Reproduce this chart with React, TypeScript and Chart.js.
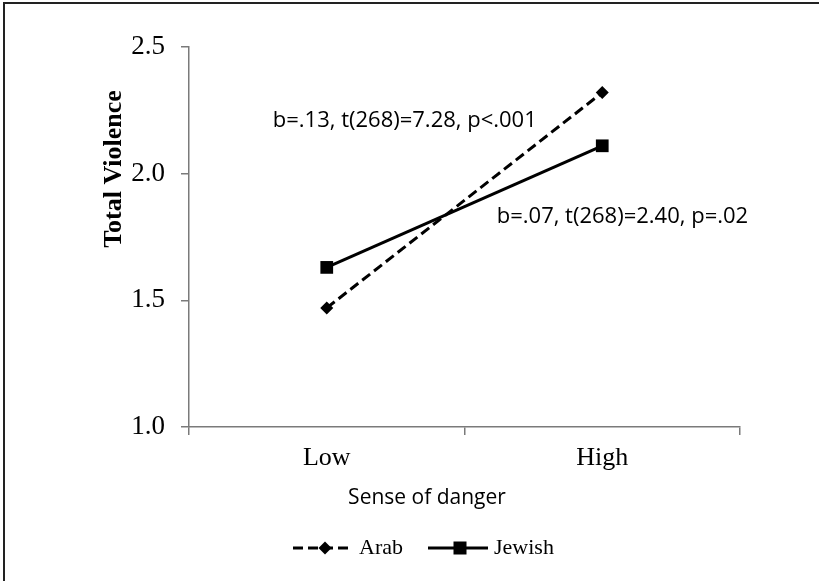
import React, { useEffect, useRef } from "react";
import { Chart, registerables } from "chart.js";

Chart.register(...registerables);

const categories = ["Low", "High"];
const arabValues = [1.47, 2.32];
const jewishValues = [1.63, 2.11];
const yTicks = [1.0, 1.5, 2.0, 2.5];
const seriesNames = ["Arab", "Jewish"];
const annotationTexts = ["b=.13, t(268)=7.28, p<.001", "b=.07, t(268)=2.40, p=.02"];
// anchor of each annotation in data space: [category index, value]
const annotationAnchors: [number, number][] = [
  [-0.196, 2.185],
  [0.617, 1.805],
];
const xTitle = "Sense of danger";
const yTitle = "Total Violence";

const SERIF = "'Liberation Serif', 'Times New Roman', serif";
const SANS = "'Open Sans', 'Liberation Sans', sans-serif";

const decorPlugin = {
  id: "decor",
  afterDraw(chart: any) {
    const ctx = chart.ctx as CanvasRenderingContext2D;
    const xs = chart.scales.x;
    const ys = chart.scales.y;
    const area = chart.chartArea;
    ctx.save();
    // frame (left and top edges)
    ctx.fillStyle = "#222";
    ctx.fillRect(3, 2, 2, chart.height);
    ctx.fillRect(3, 2, chart.width, 2);

    // y title
    ctx.fillStyle = "#000";
    ctx.font = `bold 26px ${SERIF}`;
    ctx.textAlign = "center";
    ctx.textBaseline = "alphabetic";
    ctx.save();
    ctx.translate(area.left - 68, area.top + 122);
    ctx.rotate(-Math.PI / 2);
    ctx.fillText(yTitle, 0, 0);
    ctx.restore();

    // x title
    ctx.font = `21px ${SANS}`;
    ctx.textAlign = "center";
    ctx.fillText(xTitle, area.left + 238, area.bottom + 77);

    // annotations
    ctx.font = `22px ${SANS}`;
    ctx.textAlign = "left";
    annotationTexts.forEach((t, i) => {
      const [cx, vy] = annotationAnchors[i];
      ctx.fillText(t, xs.getPixelForValue(cx), ys.getPixelForValue(vy));
    });

    // legend
    const ly = area.bottom + 121;
    const lx0 = area.left + 104;
    chart.data.datasets.forEach((ds: any, i: number) => {
      const x0 = lx0 + i * 135;
      ctx.strokeStyle = "#000";
      ctx.lineWidth = 3;
      ctx.setLineDash(ds.borderDash || []);
      ctx.beginPath();
      ctx.moveTo(x0, ly);
      ctx.lineTo(x0 + 60, ly);
      ctx.stroke();
      ctx.setLineDash([]);
      ctx.fillStyle = "#000";
      const cx = x0 + 32;
      if (ds.pointStyle === "rectRot") {
        const r = 6.5;
        ctx.beginPath();
        ctx.moveTo(cx - r, ly);
        ctx.lineTo(cx, ly - r);
        ctx.lineTo(cx + r, ly);
        ctx.lineTo(cx, ly + r);
        ctx.closePath();
        ctx.fill();
      } else {
        ctx.fillRect(cx - 6.5, ly - 6.5, 13, 13);
      }
      ctx.font = `22px ${SERIF}`;
      ctx.textAlign = "left";
      ctx.textBaseline = "middle";
      ctx.fillText(seriesNames[i], x0 + 66, ly);
    });
    ctx.restore();
  },
};

export default function App() {
  const ref = useRef<HTMLCanvasElement | null>(null);
  useEffect(() => {
    if (!ref.current) return;
    const chart = new Chart(ref.current, {
      type: "line",
      data: {
        labels: categories,
        datasets: [
          {
            label: seriesNames[0],
            data: arabValues,
            borderColor: "#000",
            backgroundColor: "#000",
            borderWidth: 3,
            borderDash: [10, 5],
            pointStyle: "rectRot",
            pointRadius: 6.5,
            pointBorderWidth: 0,
          },
          {
            label: seriesNames[1],
            data: jewishValues,
            borderColor: "#000",
            backgroundColor: "#000",
            borderWidth: 3,
            pointStyle: "rect",
            pointRadius: 9,
            pointBorderWidth: 0,
          },
        ],
      },
      options: {
        animation: false,
        responsive: false,
        layout: { padding: { left: 99, right: 79, top: 47, bottom: 70 } },
        plugins: { legend: { display: false }, tooltip: { enabled: false } },
        scales: {
          x: {
            offset: true,
            grid: { offset: true, drawOnChartArea: false, drawTicks: true, tickLength: 8, color: "#7a7a7a", lineWidth: 1.5 },
            border: { display: true, color: "#7a7a7a", width: 1.5 },
            ticks: { font: { family: SERIF, size: 26 }, color: "#000", padding: 8 },
            afterFit: (s: any) => { s.height = 84; },
          },
          y: {
            min: 1,
            max: 2.5,
            afterBuildTicks: (s: any) => { s.ticks = yTicks.map((v) => ({ value: v })); },
            grid: { drawOnChartArea: false, drawTicks: true, tickLength: 8, color: "#7a7a7a", lineWidth: 1.5 },
            border: { display: true, color: "#7a7a7a", width: 1.5 },
            ticks: {
              font: { family: SERIF, size: 27 },
              color: "#000",
              padding: 16,
              callback: (v: any) => Number(v).toFixed(1),
            },
            afterFit: (s: any) => { s.width = 90; },
          },
        },
      },
      plugins: [decorPlugin],
    });
    return () => chart.destroy();
  }, []);
  return (
    <div style={{ position: "absolute", left: 0, top: 0, width: 819, height: 581, background: "#fff" }}>
      <canvas ref={ref} width={819} height={581} style={{ display: "block" }} />
    </div>
  );
}
